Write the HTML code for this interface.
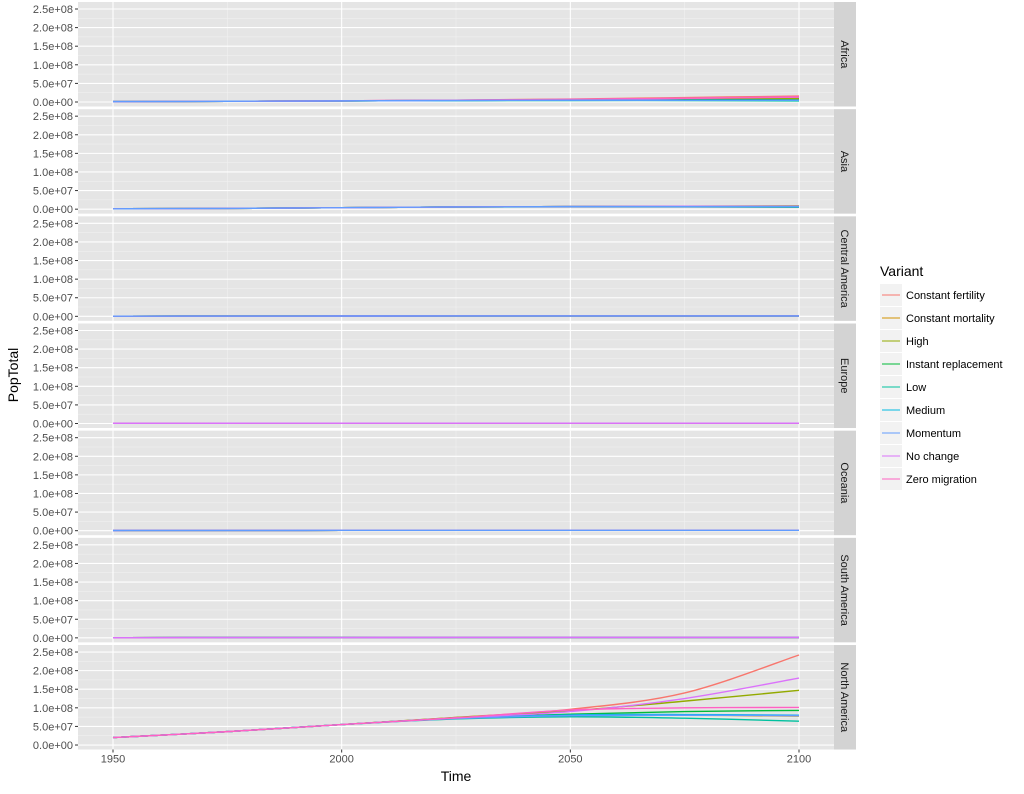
<!DOCTYPE html>
<html><head><meta charset="utf-8"><style>
body{margin:0;background:#fff;}
svg text{font-family:"Liberation Sans",Arial,sans-serif;}
</style></head><body>
<svg id="c" width="1024" height="789" xmlns="http://www.w3.org/2000/svg"></svg>
<script>
const panels=["Africa","Asia","Central America","Europe","Oceania","South America","North America"];
const variants=["Constant fertility","Constant mortality","High","Instant replacement","Low","Medium","Momentum","No change","Zero migration"];
const colors=["#F8766D","#D39200","#93AA00","#00BA38","#00C19F","#00B9E3","#619CFF","#DB72FB","#FF61C3"];
const years=[1950,1975,2000,2025,2050,2075,2100];
const yTicks=[0,5e7,1e8,1.5e8,2e8,2.5e8];
const yTickLabels=["0.0e+00","5.0e+07","1.0e+08","1.5e+08","2.0e+08","2.5e+08"];
const xTicks=[1950,2000,2050,2100];
// values in units of 1e7
const africa=[[0.1,0.2,0.3,0.5,0.8,1.2,1.6],[0.1,0.2,0.3,0.4,0.5,0.6,0.6],[0.1,0.2,0.3,0.4,0.6,0.8,1.0],[0.1,0.2,0.3,0.4,0.5,0.6,0.6],[0.1,0.2,0.3,0.4,0.4,0.4,0.3],[0.1,0.2,0.3,0.4,0.5,0.5,0.5],[0.1,0.2,0.3,0.4,0.5,0.5,0.5],[0.1,0.2,0.3,0.5,0.7,1.0,1.3],[0.1,0.2,0.3,0.5,0.7,1.0,1.4]];
const asia=[[0.1,0.2,0.4,0.6,0.7,0.7,0.7],[0.1,0.2,0.4,0.6,0.7,0.7,0.7],[0.1,0.2,0.4,0.6,0.7,0.8,0.9],[0.1,0.2,0.4,0.6,0.7,0.7,0.7],[0.1,0.2,0.4,0.6,0.6,0.6,0.5],[0.1,0.2,0.4,0.6,0.7,0.7,0.7],[0.1,0.2,0.4,0.6,0.7,0.7,0.7],[0.1,0.2,0.4,0.6,0.7,0.8,0.8],[0.1,0.2,0.4,0.6,0.7,0.7,0.7]];
const flat=[0.05,0.07,0.09,0.1,0.1,0.1,0.1];
const northAmerica=[
[2,3.6,5.5,7.4,9.6,14,24.2],
[2,3.6,5.5,7.2,8.0,8.0,7.8],
[2,3.6,5.5,7.4,9.2,11.8,14.7],
[2,3.6,5.5,7.2,8.3,9.0,9.3],
[2,3.6,5.5,7.0,7.6,7.2,6.4],
[2,3.6,5.5,7.2,8.1,8.2,8.0],
[2,3.6,5.5,7.1,7.9,8.0,7.9],
[2,3.6,5.5,7.3,9.0,12.5,18.0],
[2,3.6,5.5,7.3,9.4,10.0,10.1]];
const panelData=[africa,asia,null,null,null,null,northAmerica];
// variant index drawn on top in each panel
const topVariant=[6,6,6,7,6,7,-1];

const NS="http://www.w3.org/2000/svg";
const svg=document.getElementById('c');
function el(t,a,p){const e=document.createElementNS(NS,t);for(const k in a)e.setAttribute(k,a[k]);(p||svg).appendChild(e);return e;}
const L=78,R=834,SW=22;
const x=v=>113+(v-1950)*(799-113)/150;
const step=107.17;
function zeroY(i){return 102+i*step;}
function yf(i){const z=zeroY(i);return v=>z-v*(93/2.5e8);}
function path(pts){let d=`M${pts[0][0]},${pts[0][1]}`;for(let i=0;i<pts.length-1;i++){const p0=pts[Math.max(0,i-1)],p1=pts[i],p2=pts[i+1],p3=pts[Math.min(pts.length-1,i+2)];d+=` C${p1[0]+(p2[0]-p0[0])/6},${p1[1]+(p2[1]-p0[1])/6} ${p2[0]-(p3[0]-p1[0])/6},${p2[1]-(p3[1]-p1[1])/6} ${p2[0]},${p2[1]}`;}return d;}

panels.forEach((name,i)=>{
  const y=yf(i);const top=zeroY(i)-100,bot=zeroY(i)+4.5;
  const g=el('g',{});
  
  
  el('rect',{x:L,y:top,width:R-L,height:bot-top,fill:'#E5E5E5'},g);
  for(let k=0;k<yTicks.length-1;k++){const m=(yTicks[k]+yTicks[k+1])/2;el('line',{x1:L,x2:R,y1:y(m),y2:y(m),stroke:'#F2F2F2','stroke-width':0.5},g);}
  [1975,2025,2075].forEach(t=>el('line',{x1:x(t),x2:x(t),y1:top,y2:bot,stroke:'#F2F2F2','stroke-width':0.5},g));
  yTicks.forEach((t,k)=>{el('line',{x1:L,x2:R,y1:y(t),y2:y(t),stroke:'#fff','stroke-width':1.1},g);
    el('line',{x1:L-3,x2:L,y1:y(t),y2:y(t),stroke:'#333','stroke-width':1},g);
    const tx=el('text',{x:L-5,y:y(t)+4,'text-anchor':'end','font-size':11,fill:'#4D4D4D'},g);tx.textContent=yTickLabels[k];
    
    });
  xTicks.forEach(t=>el('line',{x1:x(t),x2:x(t),y1:top,y2:bot,stroke:'#fff','stroke-width':1.1},g));
  const data=panelData[i];
  const order=variants.map((v,j)=>j).filter(j=>j!==topVariant[i]);
  if(topVariant[i]>=0)order.push(topVariant[i]);
  order.forEach(j=>{
    const v=variants[j];
    const vals=data?data[j]:flat;
    const p=el('path',{d:path(years.map((yr,k)=>[x(yr),y(vals[k]*1e7)])),fill:'none',stroke:colors[j],'stroke-width':1.4},g);
    
    
  });
  el('rect',{x:R,y:top,width:SW,height:bot-top,fill:'#D3D3D3'},g);
  const cy=(top+bot)/2;
  const st=el('text',{x:R+SW/2,y:cy,'text-anchor':'middle','font-size':11,fill:'#1A1A1A',transform:`rotate(90 ${R+SW/2} ${cy}) translate(0,4)`},g);
  st.textContent=name;
  
  
});
const last=zeroY(6)+4.5;
xTicks.forEach(t=>{el('line',{x1:x(t),x2:x(t),y1:last,y2:last+3,stroke:'#333'});
  const tx=el('text',{x:x(t),y:last+13,'text-anchor':'middle','font-size':11,fill:'#4D4D4D'});tx.textContent=t;
  
  });
const xt=el('text',{x:456,y:781,'text-anchor':'middle','font-size':14,fill:'#000'});xt.textContent='Time';


const yt=el('text',{x:18,y:375,'text-anchor':'middle','font-size':14,fill:'#000',transform:'rotate(-90 18 375)'});yt.textContent='PopTotal';


const lg=el('g',{});


const lt=el('text',{x:880,y:276,'font-size':14,fill:'#000'},lg);lt.textContent='Variant';
variants.forEach((v,j)=>{const yy=295+j*23;
  const e=el('g',{},lg);
  
  
  el('rect',{x:880,y:yy-11,width:22,height:22,fill:'#F2F2F2'},e);
  el('line',{x1:882,x2:900,y1:yy,y2:yy,stroke:colors[j],'stroke-width':1.1},e);
  const t=el('text',{x:906,y:yy+4,'font-size':11,fill:'#000'},e);t.textContent=v;});
</script>
</body></html>
